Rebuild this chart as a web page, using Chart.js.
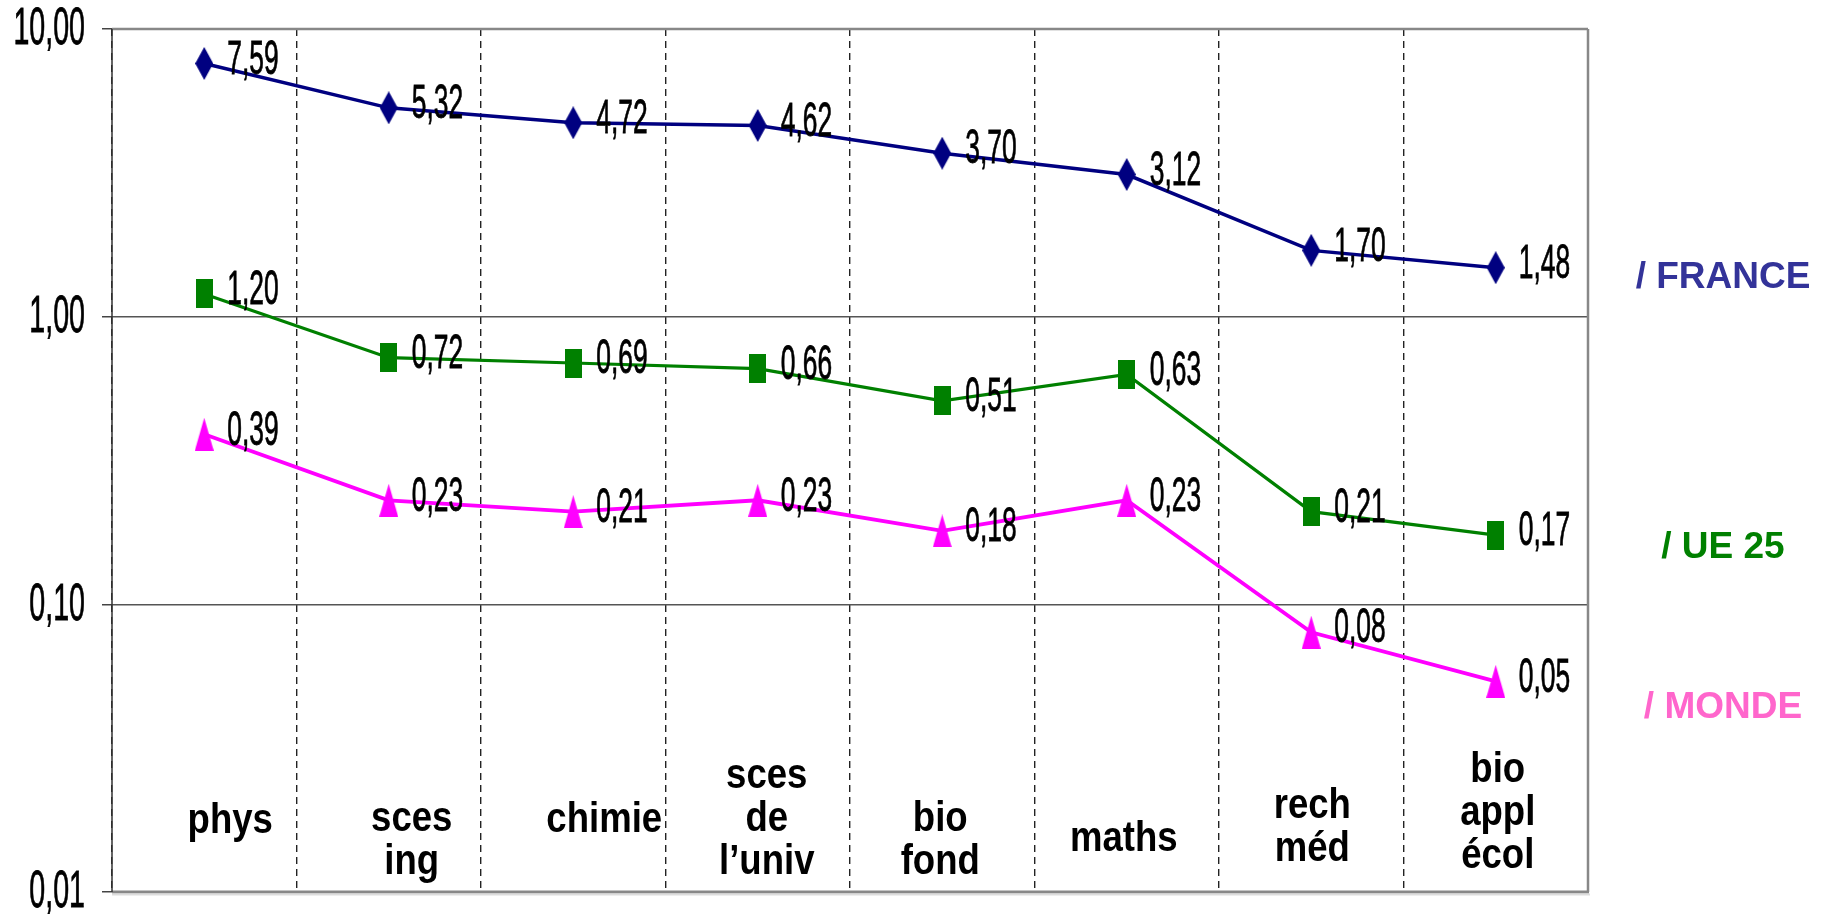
<!DOCTYPE html>
<html><head><meta charset="utf-8">
<script src="https://cdn.jsdelivr.net/npm/chart.js@4.4.1/dist/chart.umd.min.js"></script>
<style>html,body{margin:0;padding:0;background:#fff}#wrap{width:1834px;height:919px;position:relative}</style>
</head><body><div id="wrap"><canvas id="c" width="1834" height="919"></canvas></div>
<script>
// ---- data ----
const categories = [["phys"],["sces","ing"],["chimie"],["sces","de","l\u2019univ"],["bio","fond"],["maths"],["rech","méd"],["bio","appl","écol"]];
const franceValues = [7.59,5.32,4.72,4.62,3.70,3.12,1.70,1.48];
const ue25Values   = [1.20,0.72,0.69,0.66,0.51,0.63,0.21,0.174];
const mondeValues  = [0.39,0.23,0.21,0.23,0.18,0.23,0.08,0.054];
const yTickValues  = [0.01,0.1,1,10];
const seriesNames  = ["/ FRANCE","/ UE 25","/ MONDE"];

// ---- layout tweaks for text (pixels) ----
const catLabelDx = [26,23,31,9,-2,-3,1,2];
const catLabelDy = [-6,13,-7,-8,13,12,0,-14];
const nameDy = [10,13,26];

function fmt(v){ return v.toFixed(2).replace('.', ','); }

function makeMarker(kind, w, h, color){
  const cv = document.createElement('canvas');
  cv.width = w; cv.height = h;
  const g = cv.getContext('2d');
  g.fillStyle = color;
  g.beginPath();
  if(kind==='diamond'){ g.moveTo(w/2,0); g.lineTo(w,h/2); g.lineTo(w/2,h); g.lineTo(0,h/2); }
  else if(kind==='triangle'){ g.moveTo(w/2,0); g.lineTo(w,h); g.lineTo(0,h); }
  else { g.rect(0,0,w,h); }
  g.closePath(); g.fill();
  return cv;
}
const mkDiamond  = makeMarker('diamond', 18, 33, '#000080');
const mkSquare   = makeMarker('square', 17, 29, '#008000');
const mkTriangle = makeMarker('triangle', 19, 33, '#FF00FF');

const seriesColors = ['#000080','#008000','#FF00FF'];
const nameColors = ['#333399','#008000','#FF66CC'];

function condensedText(ctx, txt, x, y, sx, stroke){
  ctx.save(); ctx.scale(sx,1);
  ctx.fillText(txt, x/sx, y);
  if(stroke){ ctx.lineWidth = stroke; ctx.strokeStyle = ctx.fillStyle; ctx.strokeText(txt, x/sx, y); }
  ctx.restore();
}

const framePlugin = {
  id:'frame',
  beforeDatasetsDraw(chart){
    const {ctx, chartArea:a} = chart;
    ctx.save();
    ctx.strokeStyle = '#888'; ctx.lineWidth = 2.5;
    ctx.beginPath(); ctx.moveTo(a.left, a.top); ctx.lineTo(a.right, a.top); ctx.stroke();
    ctx.beginPath(); ctx.moveTo(a.right, a.top); ctx.lineTo(a.right, a.bottom); ctx.stroke();
    ctx.lineWidth = 3;
    ctx.beginPath(); ctx.moveTo(a.left, a.bottom); ctx.lineTo(a.right+1, a.bottom); ctx.stroke();
    ctx.strokeStyle = '#ddd'; ctx.lineWidth = 2;
    ctx.beginPath(); ctx.moveTo(a.left, a.bottom+2.5); ctx.lineTo(a.right+2, a.bottom+2.5); ctx.stroke();
    ctx.strokeStyle = '#333'; ctx.lineWidth = 1.5;
    ctx.beginPath(); ctx.moveTo(a.left, a.top); ctx.lineTo(a.left, a.bottom); ctx.stroke();
    ctx.restore();
  },
  afterDraw(chart){
    const {ctx, chartArea:a, scales} = chart;
    const ys = scales.y, xs = scales.x;
    ctx.save();
    // y tick labels (condensed)
    ctx.fillStyle = '#000';
    ctx.font = '52px "Liberation Sans", Arial, sans-serif';
    ctx.textAlign = 'right'; ctx.textBaseline = 'middle';
    yTickValues.forEach(v => {
      condensedText(ctx, fmt(v), 85, ys.getPixelForValue(v) + 1, 0.55, 0.8);
    });
    // value labels
    ctx.font = '48px "Liberation Sans", Arial, sans-serif';
    ctx.textAlign = 'left'; ctx.textBaseline = 'middle';
    chart.data.datasets.forEach((ds, di) => {
      const meta = chart.getDatasetMeta(di);
      meta.data.forEach((pt, i) => {
        condensedText(ctx, fmt(ds.data[i]), pt.x + 23, pt.y - 3, 0.55, 0.8);
      });
    });
    // category labels inside plot
    const lh = 43;
    ctx.font = 'bold 42px "Liberation Sans", Arial, sans-serif';
    ctx.textAlign = 'center'; ctx.textBaseline = 'alphabetic';
    categories.forEach((lines, i) => {
      const cx = xs.getPixelForValue(i) + catLabelDx[i];
      const mid = a.bottom - 66 + catLabelDy[i];
      lines.forEach((t, k) => {
        const by = mid + 13 + (k - (lines.length-1)/2) * lh;
        condensedText(ctx, t, cx, by, 0.87, 0);
      });
    });
    // series names at right
    ctx.font = 'bold 37px "Liberation Sans", Arial, sans-serif';
    ctx.textAlign = 'center'; ctx.textBaseline = 'middle';
    chart.data.datasets.forEach((ds, di) => {
      const meta = chart.getDatasetMeta(di);
      const last = meta.data[meta.data.length-1];
      ctx.fillStyle = nameColors[di];
      ctx.fillText(seriesNames[di], a.right + 135, last.y + nameDy[di]);
    });
    ctx.restore();
  }
};

const mkDs = (label, data, color, marker, lw) => ({
  label, data, borderColor: color, backgroundColor: color,
  borderWidth: lw, tension: 0, pointStyle: marker, pointRadius: 10, pointHoverRadius: 10,
  clip: false
});

new Chart(document.getElementById('c'), {
  type: 'line',
  data: {
    labels: categories,
    datasets: [
      mkDs(seriesNames[0], franceValues, seriesColors[0], mkDiamond, 3.5),
      mkDs(seriesNames[1], ue25Values, seriesColors[1], mkSquare, 3.2),
      mkDs(seriesNames[2], mondeValues, seriesColors[2], mkTriangle, 3.8)
    ]
  },
  options: {
    responsive: false, animation: false, devicePixelRatio: 1,
    layout: { padding: { top: 29, right: 246, left: 0, bottom: 0 } },
    plugins: { legend: { display: false }, tooltip: { enabled: false } },
    scales: {
      x: {
        type: 'category', offset: true,
        ticks: { display: false },
        grid: { offset: true, drawTicks: false, color: '#222', lineWidth: 1.4 },
        border: { display: false, dash: [7,5] },
        afterFit(s){ s.height = 27; }
      },
      y: {
        type: 'logarithmic', min: 0.01, max: 10,
        afterBuildTicks(s){ s.ticks = yTickValues.map(v => ({ value: v })); },
        ticks: { display: false },
        grid: {
          drawTicks: true, tickLength: 10, tickColor: '#444', tickWidth: 1.5, lineWidth: 1.5,
          color: (c) => (c.tick && (c.tick.value === 1 || c.tick.value === 0.1)) ? '#555' : 'rgba(0,0,0,0)'
        },
        border: { display: false },
        afterFit(s){ s.width = 112; }
      }
    }
  },
  plugins: [framePlugin]
});
</script></body></html>
